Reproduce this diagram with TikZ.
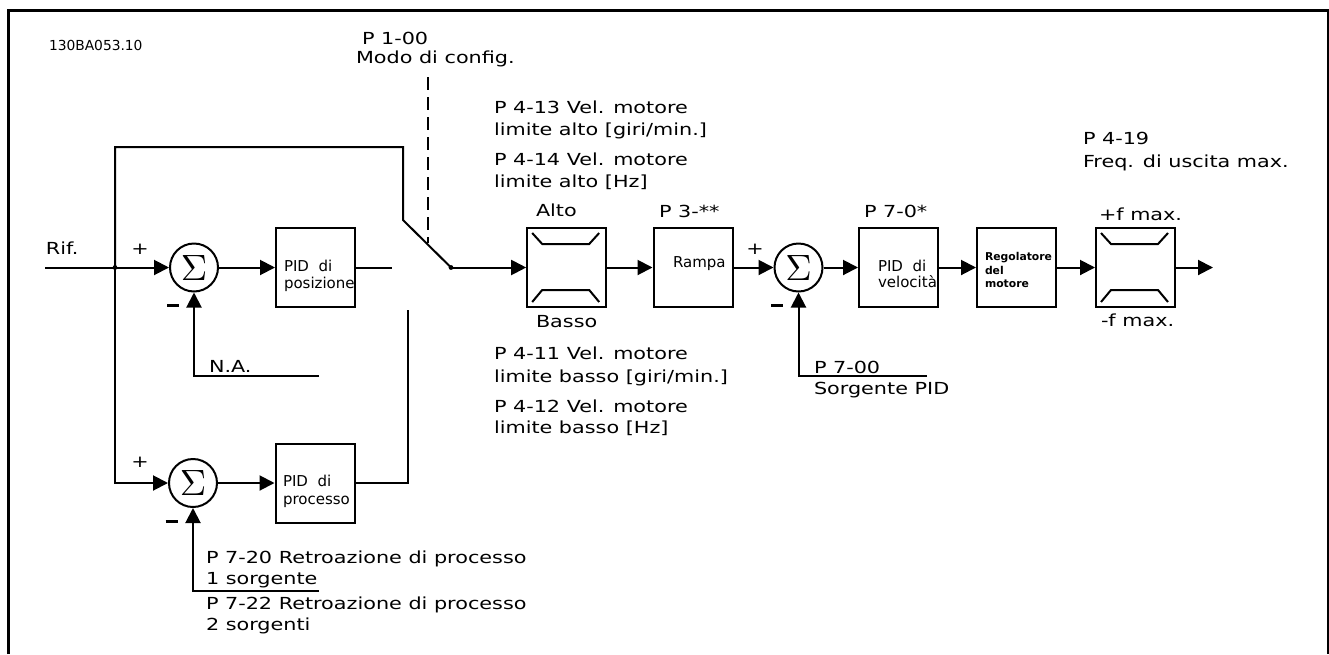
\documentclass[tikz,border=0pt]{standalone}
\usepackage{fontspec}
\newfontfamily\lblfont[FakeStretch=1.25]{DejaVu Sans}
\newfontfamily\boxfont{DejaVu Sans}
\usetikzlibrary{arrows.meta}

% limiter symbol inside a block
\newcommand{\limsym}[1]{%
  \draw ([shift={(6,6)}]#1.north west) -- ++(10,11) -- ++(47,0) -- ++(10,-11);
  \draw ([shift={(6,-6)}]#1.south west) -- ++(10,-12) -- ++(47,0) -- ++(10,12);}
\newcommand{\sumsign}{\resizebox{!}{12.5pt}{$\Sigma$}}

\begin{document}
\begin{tikzpicture}[x=0.5pt, y=-0.5pt, line width=1pt,
  lbl/.style={font=\lblfont\fontsize{8.3}{10}\selectfont, inner sep=0pt, anchor=base west},
  btxt/.style={font=\boxfont\fontsize{7.5}{8.5}\selectfont, inner sep=0pt, anchor=base west},
  rtxt/.style={font=\boxfont\bfseries\fontsize{5.4}{6}\selectfont, inner sep=0pt, anchor=base west},
  blk/.style={draw, minimum width=39.5pt, minimum height=39.5pt, inner sep=0pt},
  sumnode/.style={draw, circle, minimum size=24pt, inner sep=0pt},
  sgn/.style={font=\lblfont\fontsize{8.3}{10}\selectfont, inner sep=0pt},
  msgn/.style={inner sep=0pt},
  sig/.style={-{Triangle[length=7.5pt, width=7.5pt]}}]

  \useasboundingbox (0,0) rectangle (1329,654);
  \draw[line width=1.5pt] (8,654) -- (8,10) -- (1328,10) -- (1328,654);

  \node[lbl, font=\boxfont\fontsize{6.9}{8}\selectfont] (code) at (48,50) {130BA053.10};

  % blocks
  \node[sumnode] (sum1) at (194,267.5) {\sumsign};
  \node[blk] (pidpos) at (315.5,267.5) {};
  \node[sumnode] (sum2) at (193,483) {\sumsign};
  \node[blk] (pidproc) at (315,483) {};
  \node[blk] (lim1) at (566.7,267.5) {};
  \node[blk] (ramp) at (693,267.5) {};
  \node[sumnode] (sum3) at (798.5,267.5) {\sumsign};
  \node[blk] (pidvel) at (898.5,267.5) {};
  \node[blk] (motreg) at (1016.5,267.5) {};
  \node[blk] (lim2) at (1135.5,267.5) {};
  \limsym{lim1}
  \limsym{lim2}

  % block texts
  \node[btxt] (tpos1) at (283,271) {PID~~di};
  \node[btxt] (tpos2) at (283,288) {posizione};
  \node[btxt] (tproc1) at (282,486) {PID~~di};
  \node[btxt] (tproc2) at (282,504) {processo};
  \node[btxt] (tramp) at (672,267) {Rampa};
  \node[btxt] (tvel1) at (877,271) {PID~~di};
  \node[btxt] (tvel2) at (877,287) {velocità};
  \node[rtxt] (treg1) at (984,260) {Regolatore};
  \node[rtxt] (treg2) at (984,274) {del};
  \node[rtxt] (treg3) at (984,287) {motore};

  % points
  \coordinate (rifin) at (45,267.5);
  \coordinate (jref) at (115,267.5);
  \coordinate (tl) at (115,147);
  \coordinate (tr) at (403,147);
  \coordinate (knee) at (403,220);
  \coordinate (sw) at (451,267.5);
  \coordinate (posout) at (392,267.5);
  \coordinate (procout) at (408,310);
  \coordinate (naend) at (319,376);
  \coordinate (fbend) at (319,591);
  \coordinate (srcend) at (927,376);
  \coordinate (out) at (1213,267.5);
  \coordinate (dtop) at (428,77);
  \coordinate (dbot) at (428,243);

  % signal lines
  \draw[sig] (rifin) -- (sum1);
  \draw (jref) -- (tl) -- (tr) -- (knee) -- (sw);
  \draw[sig] (jref) |- (sum2);
  \draw[sig] (sum1) -- (pidpos);
  \draw (pidpos) -- (posout);
  \draw[sig] (sum2) -- (pidproc);
  \draw (pidproc) -| (procout);
  \draw[sig] (naend) -| (sum1);
  \draw[sig] (fbend) -| (sum2);
  \draw[sig] (sw) -- (lim1);
  \draw[sig] (lim1) -- (ramp);
  \draw[sig] (ramp) -- (sum3);
  \draw[sig] (srcend) -| (sum3);
  \draw[sig] (sum3) -- (pidvel);
  \draw[sig] (pidvel) -- (motreg);
  \draw[sig] (motreg) -- (lim2);
  \draw[sig] (lim2) -- (out);
  \fill (jref) circle[radius=1.2pt];
  \fill (sw) circle[radius=1.2pt];
  \draw[dash pattern=on 6.5pt off 3.5pt] (dtop) -- (dbot);

  % signs
  \node[sgn] (plus1) at (140,249) {+};
  \node[msgn] (minus1) at (173,305) {\rule{6pt}{1.5pt}};
  \node[sgn] (plus2) at (140,462) {+};
  \node[msgn] (minus2) at (171.5,521) {\rule{6pt}{1.5pt}};
  \node[sgn] (plus3) at (755,249) {+};
  \node[msgn] (minus3) at (777,305) {\rule{6pt}{1.5pt}};

  % labels
  \node[lbl] (rif) at (45,254) {Rif.};
  \node[lbl] (na) at (208,372) {N.A.};
  \node[lbl] (cfg1) at (361,44) {P 1-00};
  \node[lbl] (cfg2) at (355,63) {Modo di config.};
  \node[lbl] (hi1) at (493,113) {P 4-13 Vel. motore};
  \node[lbl] (hi2) at (493,135) {limite alto [giri/min.]};
  \node[lbl] (hi3) at (493,165) {P 4-14 Vel. motore};
  \node[lbl] (hi4) at (493,187) {limite alto [Hz]};
  \node[lbl] (lo1) at (493,359) {P 4-11 Vel. motore};
  \node[lbl] (lo2) at (493,382) {limite basso [giri/min.]};
  \node[lbl] (lo3) at (493,412) {P 4-12 Vel. motore};
  \node[lbl] (lo4) at (493,433) {limite basso [Hz]};
  \node[lbl] (alto) at (535,216) {Alto};
  \node[lbl] (basso) at (535,327) {Basso};
  \node[lbl] (p3) at (658,217) {P 3-**};
  \node[lbl] (p70) at (863,217) {P 7-0*};
  \node[lbl] (fmaxp) at (1098,220) {+f max.};
  \node[lbl] (fmaxm) at (1100,326) {-f max.};
  \node[lbl] (p419) at (1082,144) {P 4-19};
  \node[lbl] (freq) at (1082,167) {Freq. di uscita max.};
  \node[lbl] (src1) at (813,373) {P 7-00};
  \node[lbl] (src2) at (813,394) {Sorgente PID};
  \node[lbl] (fb1) at (205,563) {P 7-20 Retroazione di processo};
  \node[lbl] (fb2) at (205,584) {1 sorgente};
  \node[lbl] (fb3) at (205,609) {P 7-22 Retroazione di processo};
  \node[lbl] (fb4) at (205,630) {2 sorgenti};
\end{tikzpicture}
\end{document}
